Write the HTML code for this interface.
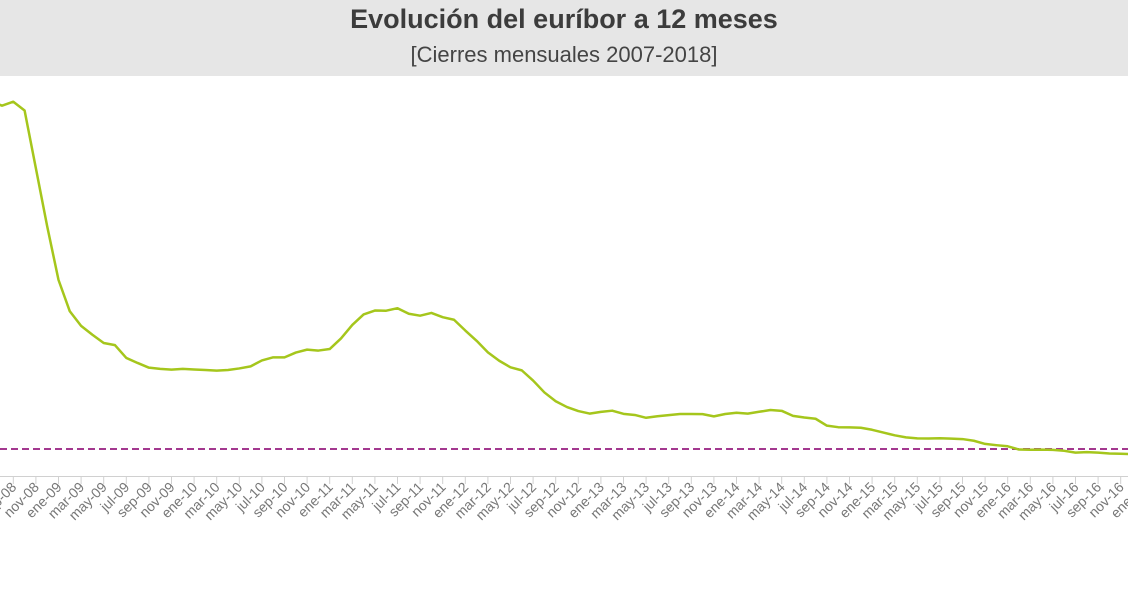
<!DOCTYPE html>
<html><head><meta charset="utf-8"><style>
html,body{margin:0;padding:0;background:#fff;}
body{width:1128px;height:591px;overflow:hidden;position:relative;font-family:"Liberation Sans",sans-serif;}
.hdr{position:absolute;left:0;top:0;width:1128px;height:76px;background:#e6e6e6;}
.t1{position:absolute;left:0;width:1128px;top:4px;text-align:center;font-weight:bold;font-size:27px;color:#3c3c3c;}
.t2{position:absolute;left:0;width:1128px;top:42px;text-align:center;font-size:22px;color:#444;}
svg{position:absolute;left:0;top:0;}
.lb text{font-size:14px;fill:#777;text-anchor:end;}
</style></head><body>
<div class="hdr"></div>
<div class="t1">Evolución del euríbor a 12 meses</div>
<div class="t2">[Cierres mensuales 2007-2018]</div>
<svg width="1128" height="591" viewBox="0 0 1128 591">
<line x1="0" y1="476.5" x2="1128" y2="476.5" stroke="#d0d0d0" stroke-width="1"/>
<path stroke="#d0d0d0" stroke-width="1" d="M13.3 476v8M35.9 476v8M58.5 476v8M81.1 476v8M103.7 476v8M126.3 476v8M148.9 476v8M171.5 476v8M194.1 476v8M216.7 476v8M239.3 476v8M261.9 476v8M284.5 476v8M307.1 476v8M329.7 476v8M352.3 476v8M374.9 476v8M397.5 476v8M420.1 476v8M442.7 476v8M465.3 476v8M487.9 476v8M510.5 476v8M533.1 476v8M555.7 476v8M578.3 476v8M600.9 476v8M623.5 476v8M646.1 476v8M668.7 476v8M691.3 476v8M713.9 476v8M736.5 476v8M759.1 476v8M781.7 476v8M804.3 476v8M826.9 476v8M849.5 476v8M872.1 476v8M894.7 476v8M917.3 476v8M939.9 476v8M962.5 476v8M985.1 476v8M1007.7 476v8M1030.3 476v8M1052.9 476v8M1075.5 476v8M1098.1 476v8M1120.7 476v8"/>
<line x1="0" y1="449" x2="1128" y2="449" stroke="#a3388f" stroke-width="2" stroke-dasharray="7,4"/>
<g transform="translate(13.3,449) scale(11.3,-64.5)">
<polyline fill="none" stroke="#a5c61c" stroke-width="2.5" vector-effect="non-scaling-stroke" stroke-linejoin="round" points="-2,5.393 -1,5.323 0,5.384 1,5.248 2,4.350 3,3.452 4,2.622 5,2.135 6,1.909 7,1.771 8,1.644 9,1.610 10,1.412 11,1.334 12,1.261 13,1.243 14,1.231 15,1.242 16,1.232 17,1.225 18,1.215 19,1.225 20,1.249 21,1.281 22,1.373 23,1.421 24,1.420 25,1.495 26,1.541 27,1.526 28,1.550 29,1.714 30,1.924 31,2.086 32,2.147 33,2.144 34,2.183 35,2.097 36,2.067 37,2.110 38,2.044 39,2.004 40,1.837 41,1.678 42,1.499 43,1.368 44,1.266 45,1.219 46,1.061 47,0.877 48,0.740 49,0.650 50,0.588 51,0.549 52,0.575 53,0.594 54,0.545 55,0.528 56,0.484 57,0.507 58,0.525 59,0.542 60,0.543 61,0.541 62,0.506 63,0.543 64,0.562 65,0.549 66,0.577 67,0.604 68,0.592 69,0.513 70,0.488 71,0.469 72,0.362 73,0.338 74,0.335 75,0.329 76,0.298 77,0.255 78,0.212 79,0.180 80,0.165 81,0.163 82,0.167 83,0.161 84,0.154 85,0.128 86,0.079 87,0.059 88,0.042 89,-0.008 90,-0.012 91,-0.010 92,-0.013 93,-0.028 94,-0.056 95,-0.048 96,-0.057 97,-0.069 98,-0.074 99,-0.080 100,-0.095"/>
</g>
<g class="lb">
<text transform="translate(17.3,488) rotate(-45)">sep-08</text>
<text transform="translate(39.9,488) rotate(-45)">nov-08</text>
<text transform="translate(62.5,488) rotate(-45)">ene-09</text>
<text transform="translate(85.1,488) rotate(-45)">mar-09</text>
<text transform="translate(107.7,488) rotate(-45)">may-09</text>
<text transform="translate(130.3,488) rotate(-45)">jul-09</text>
<text transform="translate(152.9,488) rotate(-45)">sep-09</text>
<text transform="translate(175.5,488) rotate(-45)">nov-09</text>
<text transform="translate(198.1,488) rotate(-45)">ene-10</text>
<text transform="translate(220.7,488) rotate(-45)">mar-10</text>
<text transform="translate(243.3,488) rotate(-45)">may-10</text>
<text transform="translate(265.9,488) rotate(-45)">jul-10</text>
<text transform="translate(288.5,488) rotate(-45)">sep-10</text>
<text transform="translate(311.1,488) rotate(-45)">nov-10</text>
<text transform="translate(333.7,488) rotate(-45)">ene-11</text>
<text transform="translate(356.3,488) rotate(-45)">mar-11</text>
<text transform="translate(378.9,488) rotate(-45)">may-11</text>
<text transform="translate(401.5,488) rotate(-45)">jul-11</text>
<text transform="translate(424.1,488) rotate(-45)">sep-11</text>
<text transform="translate(446.7,488) rotate(-45)">nov-11</text>
<text transform="translate(469.3,488) rotate(-45)">ene-12</text>
<text transform="translate(491.9,488) rotate(-45)">mar-12</text>
<text transform="translate(514.5,488) rotate(-45)">may-12</text>
<text transform="translate(537.1,488) rotate(-45)">jul-12</text>
<text transform="translate(559.7,488) rotate(-45)">sep-12</text>
<text transform="translate(582.3,488) rotate(-45)">nov-12</text>
<text transform="translate(604.9,488) rotate(-45)">ene-13</text>
<text transform="translate(627.5,488) rotate(-45)">mar-13</text>
<text transform="translate(650.1,488) rotate(-45)">may-13</text>
<text transform="translate(672.7,488) rotate(-45)">jul-13</text>
<text transform="translate(695.3,488) rotate(-45)">sep-13</text>
<text transform="translate(717.9,488) rotate(-45)">nov-13</text>
<text transform="translate(740.5,488) rotate(-45)">ene-14</text>
<text transform="translate(763.1,488) rotate(-45)">mar-14</text>
<text transform="translate(785.7,488) rotate(-45)">may-14</text>
<text transform="translate(808.3,488) rotate(-45)">jul-14</text>
<text transform="translate(830.9,488) rotate(-45)">sep-14</text>
<text transform="translate(853.5,488) rotate(-45)">nov-14</text>
<text transform="translate(876.1,488) rotate(-45)">ene-15</text>
<text transform="translate(898.7,488) rotate(-45)">mar-15</text>
<text transform="translate(921.3,488) rotate(-45)">may-15</text>
<text transform="translate(943.9,488) rotate(-45)">jul-15</text>
<text transform="translate(966.5,488) rotate(-45)">sep-15</text>
<text transform="translate(989.1,488) rotate(-45)">nov-15</text>
<text transform="translate(1011.7,488) rotate(-45)">ene-16</text>
<text transform="translate(1034.3,488) rotate(-45)">mar-16</text>
<text transform="translate(1056.9,488) rotate(-45)">may-16</text>
<text transform="translate(1079.5,488) rotate(-45)">jul-16</text>
<text transform="translate(1102.1,488) rotate(-45)">sep-16</text>
<text transform="translate(1124.7,488) rotate(-45)">nov-16</text>
<text transform="translate(1147.3,488) rotate(-45)">ene-17</text>
</g>
</svg>
</body></html>
